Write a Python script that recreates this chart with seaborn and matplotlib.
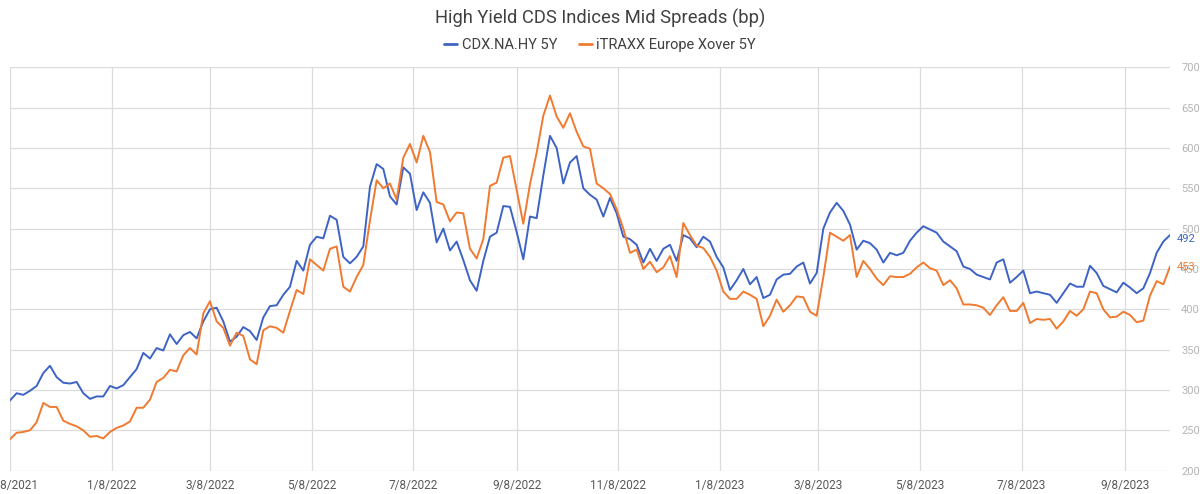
import pandas as pd
import seaborn as sns
import matplotlib.pyplot as plt
from matplotlib.lines import Line2D

# one reading every 4 days
dates = pd.date_range('2021-11-08', periods=175, freq='4D')

cdx = [287, 296, 294, 299, 305, 321, 330, 316, 309, 308,
       310, 296, 289, 292, 292, 305, 302, 306, 316, 326,
       346, 339, 352, 349, 369, 357, 368, 372, 364, 385,
       400, 402, 385, 360, 366, 378, 373, 362, 390, 404,
       405, 418, 428, 460,
       448, 480, 490, 488, 516, 511, 465, 457, 465, 478,
       552, 580, 574, 540, 530, 576, 568, 523, 545, 532,
       483, 500, 473, 484, 461, 436, 423, 460, 490, 495,
       528, 527, 496, 462, 515, 513, 566, 615, 600, 556,
       582, 590, 550, 542,
       536, 515, 538, 519, 490, 487, 480, 458, 475, 460,
       475, 480, 460, 492, 488, 477, 490, 484, 465, 452,
       424, 436, 450, 431, 440, 414, 418, 437, 443, 444,
       453, 458, 432, 445, 500, 520, 532, 522, 505, 474,
       485, 482, 474,
       458, 470, 467, 470, 485, 495, 503, 499, 495, 484,
       478, 472, 453, 450, 443, 440, 437, 458, 462, 433,
       440, 448, 420, 422, 420, 418, 408, 420, 432, 428,
       428, 454, 445, 429, 425, 421, 433, 427, 420, 426,
       445, 470, 484, 492]

xover = [239, 247, 248, 250, 260, 284, 279, 279, 262, 258,
         255, 250, 242, 243, 240, 248, 253, 256, 261, 278,
         278, 288, 310, 315, 325, 323, 343, 352, 344, 395,
         410, 385, 377, 355, 371, 367, 338, 332, 374, 379,
         377, 371, 398, 424,
         419, 462, 455, 448, 475, 478, 428, 422, 440, 455,
         510, 560, 550, 556, 536, 588, 605, 582, 615, 595,
         533, 530, 509, 520, 519, 475, 463, 487, 553, 557,
         588, 590, 548, 506, 555, 594, 640, 665, 639, 625,
         643, 620, 602, 599,
         556, 550, 543, 524, 500, 470, 474, 450, 459, 446,
         452, 466, 440, 507, 492, 479, 476, 465, 448, 422,
         413, 413, 422, 418, 413, 379, 392, 412, 397, 405,
         416, 415, 397, 392, 440, 495, 490, 485, 492, 440,
         460, 450, 438,
         430, 441, 440, 440, 444, 452, 458, 451, 448, 430,
         436, 426, 406, 406, 405, 402, 393, 405, 415, 398,
         398, 408, 383, 388, 387, 388, 376, 385, 398, 392,
         400, 422, 420, 400, 390, 391, 397, 393, 384, 386,
         417, 435, 431, 453]

series_names = ['CDX.NA.HY 5Y', 'iTRAXX Europe Xover 5Y']
tick_dates = ['2021-11-08', '2022-01-08', '2022-03-08', '2022-05-08', '2022-07-08', '2022-09-08',
              '2022-11-08', '2023-01-08', '2023-03-08', '2023-05-08', '2023-07-08', '2023-09-08']
tick_labels = ['11/8/2021', '1/8/2022', '3/8/2022', '5/8/2022', '7/8/2022', '9/8/2022',
               '11/8/2022', '1/8/2023', '3/8/2023', '5/8/2023', '7/8/2023', '9/8/2023']
y_ticks = [200, 250, 300, 350, 400, 450, 500, 550, 600, 650, 700]

blue = '#3d63c4'
orange = '#f07a30'

df = pd.DataFrame({'date': dates, series_names[0]: cdx, series_names[1]: xover})
long_df = df.melt(id_vars='date', var_name='index', value_name='spread')

sns.set_style('white')
plt.rcParams['font.family'] = ['Roboto', 'DejaVu Sans']

fig = plt.figure(figsize=(12, 4.94), dpi=100)
ax = fig.add_axes([0.0083, 0.0472, 0.9667, 0.8166])

sns.lineplot(data=long_df, x='date', y='spread', hue='index',
             palette=[blue, orange], linewidth=1.4, ax=ax, legend=False)

ax.set_xlim(dates[0], dates[-1])
ax.set_ylim(200, 700)
ax.set_xticks(pd.to_datetime(tick_dates))
ax.set_xticklabels(tick_labels)
ax.set_yticks(y_ticks)
ax.yaxis.tick_right()
ax.tick_params(axis='x', length=0, pad=6, labelsize=8.5, labelcolor='#595959')
ax.tick_params(axis='y', length=0, pad=8, labelsize=8, labelcolor='#b4b4b4')
ax.set_xlabel('')
ax.set_ylabel('')
ax.grid(True, color='#dcdcdc', linewidth=0.9)
for s in ax.spines.values():
    s.set_visible(False)

# last values at the line ends
ax.annotate(str(cdx[-1]), xy=(dates[-1], cdx[-1]), xytext=(5, -3), textcoords='offset points',
            color=blue, fontsize=8, va='center', annotation_clip=False)
ax.annotate(str(xover[-1]), xy=(dates[-1], xover[-1]), xytext=(5, 0), textcoords='offset points',
            color=orange, fontsize=8, va='center', annotation_clip=False)

fig.text(0.5, 0.963, 'High Yield CDS Indices Mid Spreads (bp)', ha='center', va='center',
         fontsize=13.2, color='#404040')
handles = [Line2D([], [], color=blue, lw=2), Line2D([], [], color=orange, lw=2)]
fig.legend(handles, series_names, loc='center', bbox_to_anchor=(0.5, 0.908), ncol=2,
           frameon=False, handlelength=0.9, handletextpad=0.3, columnspacing=1.5,
           fontsize=10.5, labelcolor='#404040')

fig.savefig('out.png', dpi=100)
